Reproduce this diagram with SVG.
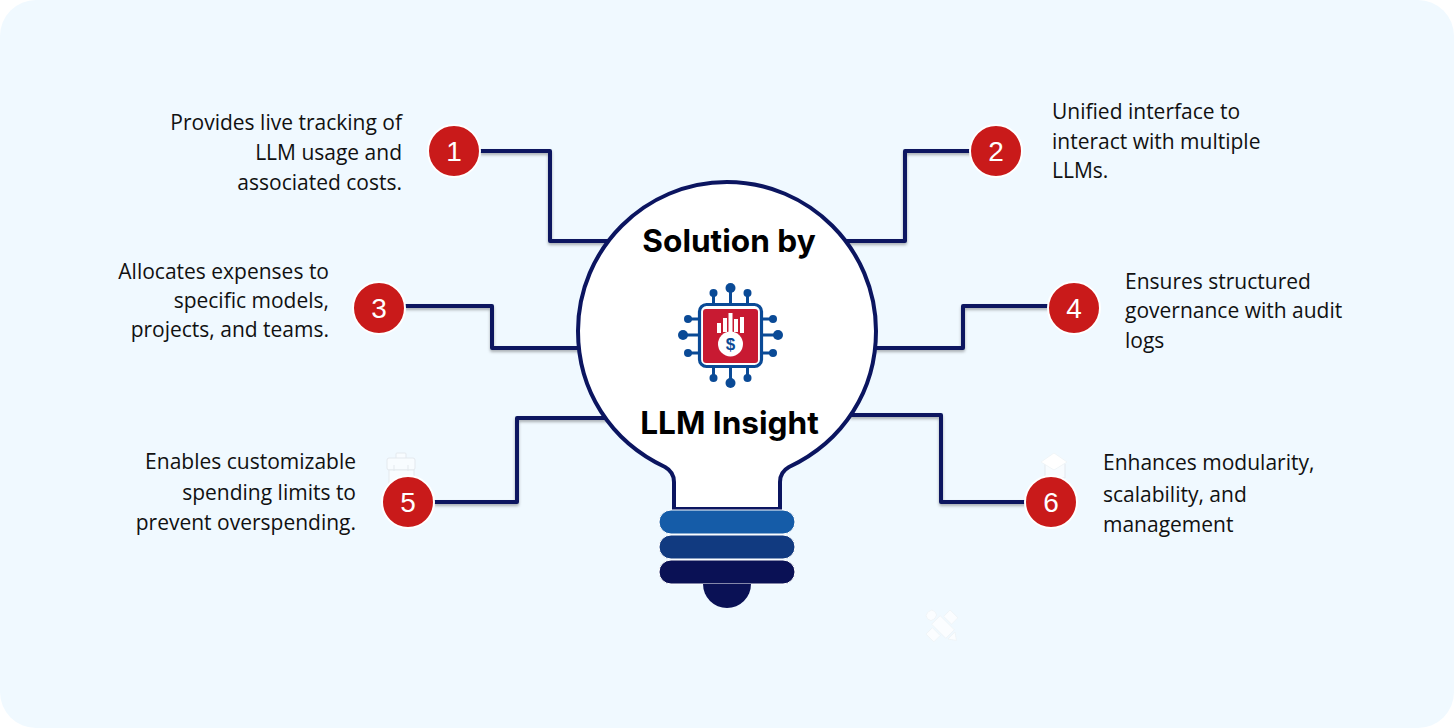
<svg xmlns="http://www.w3.org/2000/svg" width="1454" height="728" viewBox="0 0 1454 728">
<style>
.conn{fill:none;stroke:#0b1560;stroke-width:4;stroke-linejoin:round;filter:url(#sh)}
.num{fill:#c91a1a;stroke:#fff;stroke-width:2}
.nt{font-family:"Liberation Sans",Arial,sans-serif;font-size:28px;fill:#fff;text-anchor:middle}
.t{font-family:"Open Sans","Noto Sans",sans-serif;font-size:21px;fill:#111}
.e{text-anchor:end}
.title{font-family:Inter,"Noto Sans",sans-serif;font-weight:700;font-size:31.6px;fill:#000;text-anchor:middle}
.ic{fill:#0a4a96;stroke:none}
.il{stroke:#0a4a96;stroke-width:3;fill:none}
.g{fill:#f8fcff;stroke:#e4e9ee;stroke-width:1}
.w{fill:#fff;stroke:#eef2f5;stroke-width:.8}
.f{fill:#fbfdff;stroke:#eef3f6;stroke-width:.8}
</style>
<defs><filter id="sh" x="-10%" y="-10%" width="120%" height="130%"><feDropShadow dx="0" dy="2" stdDeviation="1.5" flood-color="#000" flood-opacity=".3"/></filter></defs>
<rect width="1454" height="728" fill="#fff"/>
<rect width="1454" height="728" rx="36" fill="#f0f9ff"/>
<g id="ghosts">
<g id="ghost-case"><path class="g" d="M396 458V454Q396 453 397 453H405Q406 453 406 454V458"/><rect class="g" x="387" y="458" width="28" height="12" rx="2"/><rect class="g" x="389" y="470" width="25" height="14"/><path class="g" d="M394 465v6M408 465v6"/></g>
<g id="ghost-cap"><path class="g" d="M1045 464V478H1065V464"/><path class="w" d="M1054 453L1067 462 1054 470 1041 462Z"/></g>
<g id="ghost-tool" transform="rotate(-45 943 627)"><rect class="f" x="937" y="617" width="12" height="20"/><rect class="f" x="938" y="606" width="10" height="9" rx="4"/><path class="f" d="M938 639H948L943 646Z"/><rect class="f" x="951" y="620" width="9" height="11"/><rect class="f" x="926" y="620" width="9" height="11"/></g>
</g>
<g id="connectors">
<path class="conn" d="M480 151H550V241H610"/>
<path class="conn" d="M972 151H905V241H845"/>
<path class="conn" d="M405 306H492V348H580"/>
<path class="conn" d="M1050 306H963V348H875"/>
<path class="conn" d="M434 502H517V418H610"/>
<path class="conn" d="M1027 502H941V415H850"/>
</g>
<g id="bulb">
<path d="M674 509V482Q674 472 665 467C610 441 578 390 578 331C578 249 645 182 727 182S876 249 876 331C876 390 844 441 789 467Q780 472 780 482V509Z" fill="#fff" stroke="#0b1560" stroke-width="4"/>
<rect x="659" y="510" width="136" height="24" rx="12" fill="#155ca8" stroke="#fff"/>
<rect x="659" y="535" width="136" height="24" rx="12" fill="#113a80" stroke="#fff"/>
<rect x="659" y="560" width="136" height="24" rx="12" fill="#0a1155" stroke="#fff"/>
<path d="M703 584H751A24 24 0 0 1 703 584Z" fill="#0a1155"/>
<text class="title" x="729" y="252">Solution by</text>
<text class="title" x="729.500" y="434">LLM Insight</text>
</g>
<g id="chip">
<path class="il" d="M713.500 305V293M730.500 305V288M747.500 305V293M713.500 366V378M730.500 366V383M747.500 366V378M700 319H688M700 335H683M700 353H688M762 319H773M762 335H778M762 353H773"/>
<circle class="ic" cx="713.500" cy="293" r="4"/><circle class="ic" cx="730.500" cy="288" r="5"/><circle class="ic" cx="747.500" cy="293" r="4"/>
<circle class="ic" cx="713.500" cy="378" r="4"/><circle class="ic" cx="730.500" cy="383" r="5"/><circle class="ic" cx="747.500" cy="378" r="4"/>
<circle class="ic" cx="688" cy="319" r="4"/><circle class="ic" cx="683" cy="335" r="5"/><circle class="ic" cx="688" cy="353" r="4"/>
<circle class="ic" cx="773" cy="319" r="4"/><circle class="ic" cx="778" cy="335" r="5"/><circle class="ic" cx="773" cy="353" r="4"/>
<rect x="699.500" y="304.500" width="62" height="62" rx="7" fill="#fff" stroke="#0a4a96" stroke-width="3.200"/>
<rect x="703" y="309" width="55" height="54" rx="3" fill="#c81a32"/>
<path d="M717 333V323h4v10zM723 332V318h4v14zM728.500 332V313h4v19zM734 332V319h4v13zM740 333V317h4v16z" fill="#fff"/>
<circle cx="730.500" cy="344" r="12.500" fill="#fff"/>
<text x="730.500" y="350" font-family="Liberation Sans,sans-serif" font-weight="700" font-size="17" fill="#0a4a96" text-anchor="middle">$</text>
</g>
<g id="n1"><circle class="num" cx="454" cy="151" r="26"/><text class="nt" x="454" y="161">1</text><text class="t e" x="402" y="129.500">Provides live tracking of</text><text class="t e" x="402" y="159.500">LLM usage and</text><text class="t e" x="402" y="189.500">associated costs.</text></g>
<g id="n2"><circle class="num" cx="996" cy="151" r="26"/><text class="nt" x="996" y="161">2</text><text class="t" x="1052" y="118.500">Unified interface to</text><text class="t" x="1052" y="148.500">interact with multiple</text><text class="t" x="1052" y="177.500">LLMs.</text></g>
<g id="n3"><circle class="num" cx="379" cy="308" r="26"/><text class="nt" x="379" y="318">3</text><text class="t e" x="329" y="278.500">Allocates expenses to</text><text class="t e" x="329" y="307.500">specific models,</text><text class="t e" x="329" y="336.500">projects, and teams.</text></g>
<g id="n4"><circle class="num" cx="1074" cy="308" r="26"/><text class="nt" x="1074" y="318">4</text><text class="t" x="1125" y="288.500">Ensures structured</text><text class="t" x="1125" y="317.500">governance with audit</text><text class="t" x="1125" y="347.500">logs</text></g>
<g id="n5"><circle class="num" cx="408" cy="502" r="26"/><text class="nt" x="408" y="512">5</text><text class="t e" x="356" y="468.500">Enables customizable</text><text class="t e" x="356" y="499.500">spending limits to</text><text class="t e" x="356" y="529.500">prevent overspending.</text></g>
<g id="n6"><circle class="num" cx="1051" cy="502" r="26"/><text class="nt" x="1051" y="512">6</text><text class="t" x="1103" y="469.500">Enhances modularity,</text><text class="t" x="1103" y="501.500">scalability, and</text><text class="t" x="1103" y="531.500">management</text></g>
</svg>
